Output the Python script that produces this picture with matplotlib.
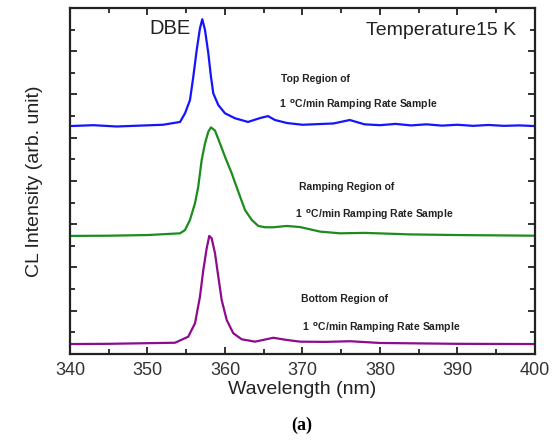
import matplotlib
matplotlib.use("Agg")
import matplotlib.pyplot as plt
from matplotlib.ticker import MultipleLocator, NullFormatter

plt.rcParams['font.family'] = ['Liberation Sans', 'DejaVu Sans']

# spectra (wavelength in nm, intensity in arb. units)
top_wl = [340, 343, 346, 349, 352, 354.2, 354.84, 355.48, 355.91, 356.35, 356.77, 357.07,
          357.42, 357.85, 358.19, 358.49, 359.14, 360.0, 361.29, 362.97, 364.52, 365.55,
          366.45, 368.0, 370, 372, 374, 376.1, 378, 380, 382, 384, 386, 388, 390, 392,
          394, 396, 398, 400]
top_int = [10.54, 10.58, 10.52, 10.56, 10.6, 10.73, 11.13, 11.74, 12.82, 14.06, 15.06, 15.48,
           14.98, 13.9, 12.82, 12.05, 11.51, 11.13, 10.9, 10.73, 10.91, 11.0,
           10.82, 10.68, 10.6, 10.63, 10.66, 10.82, 10.62, 10.58, 10.64, 10.57, 10.62, 10.56,
           10.6, 10.55, 10.59, 10.55, 10.57, 10.54]

ramp_wl = [340, 345, 350, 354.19, 354.84, 355.48, 356.13, 356.55, 356.99, 357.42, 357.85,
           358.19, 358.71, 359.35, 360.0, 360.86, 361.72, 362.58, 363.45, 364.3, 365.16,
           366.23, 367.96, 369.68, 372.26, 374.84, 378, 383.87, 390, 400]
ramp_int = [5.46, 5.47, 5.5, 5.58, 5.73, 6.2, 6.97, 7.74, 8.97, 9.74, 10.28,
            10.48, 10.33, 9.74, 9.12, 8.36, 7.5, 6.66, 6.2, 5.92, 5.86,
            5.86, 5.92, 5.87, 5.66, 5.58, 5.6, 5.53, 5.5, 5.47]

bot_wl = [340, 345, 350, 353.55, 355.26, 356.13, 356.77, 357.2, 357.64, 357.97, 358.28,
          358.71, 359.14, 359.57, 360.22, 361.07, 362.15, 363.87, 364.94, 366.23, 367.96,
          369.68, 373, 376.13, 380, 390, 400]
bot_int = [0.46, 0.47, 0.5, 0.52, 0.8, 1.42, 2.65, 3.88, 4.89, 5.46, 5.35,
           4.66, 3.57, 2.5, 1.57, 0.96, 0.68, 0.57, 0.65, 0.75, 0.65,
           0.57, 0.56, 0.59, 0.51, 0.47, 0.46]

fig = plt.figure(figsize=(5.56, 4.41), dpi=100)
ax = fig.add_axes([0.1259, 0.1973, 0.8363, 0.7846])

ax.plot(top_wl, top_int, color='#1414ff', lw=1.6)
ax.plot(ramp_wl, ramp_int, color='#1c8c1c', lw=1.6)
ax.plot(bot_wl, bot_int, color='#8e0a8e', lw=1.6)

ax.set_xlim(340, 400)
ax.set_ylim(0, 16)
ax.xaxis.set_major_locator(MultipleLocator(10))
ax.xaxis.set_minor_locator(MultipleLocator(5))
ax.yaxis.set_major_locator(MultipleLocator(2))
ax.yaxis.set_minor_locator(MultipleLocator(1))
ax.yaxis.set_major_formatter(NullFormatter())
ax.tick_params(which='both', direction='in', top=True, right=True, width=1.3, color='#222222')
ax.tick_params(which='major', length=5)
ax.tick_params(which='minor', length=3.5)
ax.tick_params(axis='x', labelsize=13, labelcolor='#333333', pad=6)
for s in ax.spines.values():
    s.set_linewidth(1.6)
    s.set_color('#222222')

ax.set_xlabel('Wavelength (nm)', fontsize=14, color='#222222', labelpad=1)
ax.set_ylabel('CL Intensity (arb. unit)', fontsize=14, color='#222222', labelpad=16)

ax.text(352.9, 15.05, 'DBE', fontsize=14.5, color='#222222', ha='center', va='center')
ax.text(397.6, 14.95, 'Temperature15 K', fontsize=14, color='#222222', ha='right', va='center')

small = dict(fontsize=7.5, fontweight='bold', color='#222222', va='center')
ax.text(367.2, 12.7, 'Top Region of', **small)
ax.text(367.0, 11.5, r'1 $\,^{\mathbf{o}}$C/min Ramping Rate Sample', **small)
ax.text(369.5, 7.7, 'Ramping Region of', **small)
ax.text(369.0, 6.45, r'1 $\,^{\mathbf{o}}$C/min Ramping Rate Sample', **small)
ax.text(369.8, 2.55, 'Bottom Region of', **small)
ax.text(370.0, 1.2, r'1 $\,^{\mathbf{o}}$C/min Ramping Rate Sample', **small)

fig.text(0.543, 0.035, '(a)', fontsize=13, fontweight='bold', family='Liberation Serif',
         ha='center', va='center')

fig.savefig('out.png', dpi=100)
